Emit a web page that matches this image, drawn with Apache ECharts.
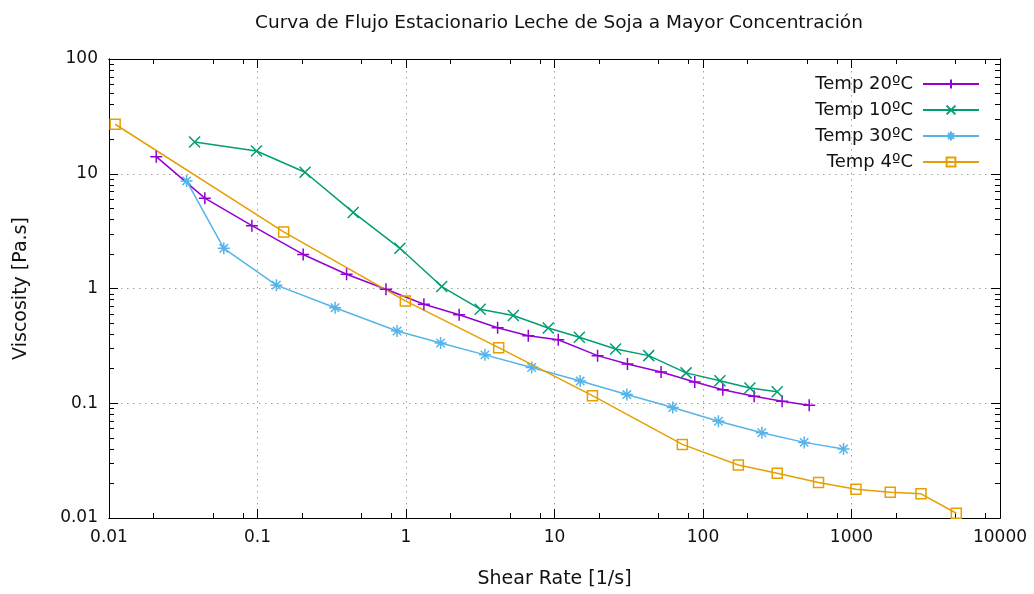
<!DOCTYPE html>
<html>
<head>
<meta charset="utf-8">
<title>Curva de Flujo Estacionario</title>
<script src="https://cdn.jsdelivr.net/npm/echarts@6/dist/echarts.min.js"></script>
<style>
  html, body { margin: 0; padding: 0; background: #fff; }
  #chart { width: 1034px; height: 594px; }
</style>
</head>
<body>
<div id="chart"></div>
<script>
// Shear rate [1/s] and viscosity [Pa.s] for each temperature
const rate20 = [0.0208, 0.0442, 0.0917, 0.203, 0.398, 0.733, 1.32, 2.28, 4.14, 6.66, 10.6, 19.5, 31, 52.2, 88, 136, 221, 341, 519];
const visc20 = [14.1, 6.13, 3.53, 1.98, 1.33, 0.984, 0.73, 0.59, 0.455, 0.387, 0.358, 0.26, 0.22, 0.187, 0.153, 0.131, 0.115, 0.104, 0.096];

const rate10 = [0.0377, 0.0984, 0.209, 0.441, 0.91, 1.74, 3.16, 5.28, 9.08, 14.7, 25.8, 43.1, 76.9, 130, 207, 316];
const visc10 = [18.9, 15.8, 10.3, 4.6, 2.24, 1.04, 0.66, 0.582, 0.452, 0.376, 0.297, 0.26, 0.184, 0.157, 0.136, 0.126];

const rate30 = [0.0333, 0.0593, 0.134, 0.333, 0.87, 1.71, 3.4, 7.02, 14.9, 30.7, 62.6, 127, 249, 480, 884];
const visc30 = [8.66, 2.24, 1.07, 0.68, 0.426, 0.335, 0.264, 0.205, 0.156, 0.119, 0.0917, 0.0697, 0.0553, 0.0456, 0.0399];

const rate4 = [0.011, 0.150, 0.99, 4.21, 18.0, 72.6, 173, 316, 600, 1071, 1824, 2937, 5080];
const visc4 = [27.0, 3.11, 0.78, 0.305, 0.1165, 0.0438, 0.029, 0.0245, 0.0204, 0.0178, 0.0168, 0.01625, 0.0110];

const seriesNames = ['Temp 20ºC', 'Temp 10ºC', 'Temp 30ºC', 'Temp 4ºC'];
const seriesColors = ['#9400d3', '#009e73', '#56b4e9', '#e69f00'];

// Tick values for the log axes
const xMajorTicks = [0.01, 0.1, 1, 10, 100, 1000, 10000];
const yMajorTicks = [0.01, 0.1, 1, 10, 100];
const xMinorSteps = [2, 5, 8];
const yMinorSteps = [2, 3, 4, 5, 6, 7, 8, 9];

function minorTicks(majors, steps) {
  const out = [];
  for (let i = 0; i < majors.length - 1; i++) {
    steps.forEach(s => out.push(+(majors[i] * s).toPrecision(6)));
  }
  return out;
}
const xMinorTicks = minorTicks(xMajorTicks, xMinorSteps);
const yMinorTicks = minorTicks(yMajorTicks, yMinorSteps);

const FONT = 'DejaVu Sans';
const TEXT = '#111111';

// Marker outlines (stroked, not filled)
const SYM = {
  plus: 'path://M0,6H12M6,0V12',
  cross: 'path://M0,0L12,12M0,12L12,0',
  star: 'path://M0,6H12M6,0V12M1.8,1.8L10.2,10.2M1.8,10.2L10.2,1.8',
  square: 'path://M0,0H12V12H0Z'
};

function pairs(xs, ys) { return xs.map((x, i) => [x, ys[i]]); }

function makeSeries(name, color, symbol, size, xs, ys) {
  return {
    name: name,
    type: 'line',
    data: pairs(xs, ys),
    symbol: symbol,
    symbolSize: size,
    showAllSymbol: true,
    lineStyle: { color: color, width: 1.5 },
    itemStyle: { color: 'none', borderColor: color, borderWidth: 1.5 },
    emphasis: { disabled: true },
    z: 3
  };
}

const fmt = v => String(+Number(v).toPrecision(6));

const baseLine = { show: true, onZero: false, lineStyle: { color: '#000', width: 1 } };

function logAxis(pos, majors, minors, isMain, isMinor) {
  const ax = {
    type: 'log',
    logBase: 10,
    position: pos,
    min: majors[0],
    max: majors[majors.length - 1],
    axisLine: baseLine,
    axisTick: {
      show: true,
      inside: true,
      length: isMinor ? 5 : 9,
      lineStyle: { color: '#000', width: 1 },
      customValues: isMinor ? minors : majors
    },
    axisLabel: { show: false },
    splitLine: { show: false },
    minorTick: { show: false },
    silent: true
  };
  if (isMain) {
    ax.axisLabel = {
      show: true,
      customValues: majors,
      formatter: fmt,
      fontFamily: FONT,
      fontSize: 17,
      color: TEXT,
      margin: 11
    };
    ax.splitLine = {
      show: true,
      lineStyle: { color: '#a0a0a0', width: 1, type: [1.5, 4.5] }
    };
  }
  return ax;
}

const chart = echarts.init(document.getElementById('chart'), null, { renderer: 'canvas' });

const xAxes = [
  Object.assign(logAxis('bottom', xMajorTicks, xMinorTicks, true, false), {
    name: 'Shear Rate [1/s]',
    nameLocation: 'middle',
    nameGap: 52,
    nameTextStyle: { fontFamily: FONT, fontSize: 19, color: TEXT }
  }),
  logAxis('bottom', xMajorTicks, xMinorTicks, false, true),
  logAxis('top', xMajorTicks, xMinorTicks, false, false),
  logAxis('top', xMajorTicks, xMinorTicks, false, true)
];
const yAxes = [
  Object.assign(logAxis('left', yMajorTicks, yMinorTicks, true, false), {
    name: 'Viscosity [Pa.s]',
    nameLocation: 'middle',
    nameGap: 78,
    nameRotate: 90,
    nameTextStyle: { fontFamily: FONT, fontSize: 19, color: TEXT }
  }),
  logAxis('left', yMajorTicks, yMinorTicks, false, true),
  logAxis('right', yMajorTicks, yMinorTicks, false, false),
  logAxis('right', yMajorTicks, yMinorTicks, false, true)
];

chart.setOption({
  animation: false,
  backgroundColor: '#ffffff',
  title: {
    text: 'Curva de Flujo Estacionario Leche de Soja a Mayor Concentración',
    left: 554,
    textAlign: 'center',
    top: 9,
    textStyle: { fontFamily: FONT, fontSize: 18.5, fontWeight: 'normal', color: TEXT }
  },
  grid: { left: 109, right: 34, top: 59, bottom: 74, containLabel: false },
  legend: {
    orient: 'vertical',
    right: 49,
    top: 70,
    align: 'right',
    itemWidth: 56,
    itemHeight: 11,
    itemGap: 8,
    selectedMode: false,
    textStyle: { fontFamily: FONT, fontSize: 18, color: TEXT, padding: [0, 5, 0, 0] },
    data: seriesNames
  },
  xAxis: xAxes,
  yAxis: yAxes,
  series: [
    makeSeries(seriesNames[0], seriesColors[0], SYM.plus, 12, rate20, visc20),
    makeSeries(seriesNames[1], seriesColors[1], SYM.cross, 11, rate10, visc10),
    makeSeries(seriesNames[2], seriesColors[2], SYM.star, 12, rate30, visc30),
    makeSeries(seriesNames[3], seriesColors[3], SYM.square, 10, rate4, visc4)
  ]
});
</script>
</body>
</html>
